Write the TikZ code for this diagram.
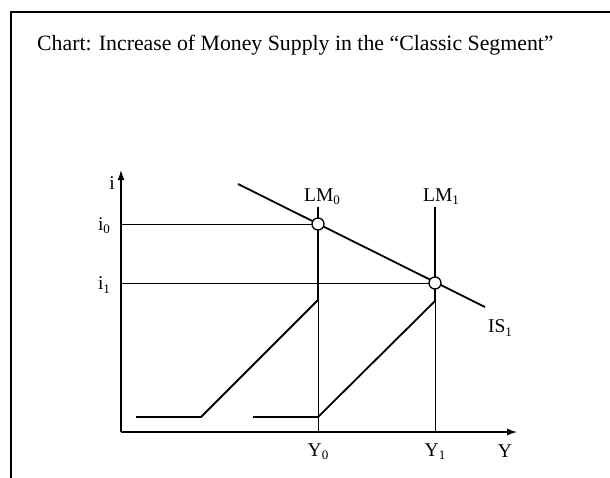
\documentclass[tikz,border=0pt]{standalone}
\usepackage{fontspec}
\setmainfont{Liberation Serif}
\usetikzlibrary{arrows.meta}
\newcommand{\sbs}[1]{\raisebox{-0.35ex}{\fontsize{13}{13}\selectfont #1}}
\begin{document}
\begin{tikzpicture}[x=1pt,y=-1pt,
  frame/.style={line width=2.6pt},
  thick curve/.style={line width=1.8pt},
  thin guide/.style={line width=0.9pt},
  axisline/.style={line width=1.3pt,-{Latex[length=10pt,width=7pt]}},
  lbl/.style={font=\fontsize{19.5}{19.5}\selectfont, inner sep=0pt},
  eq/.style={circle,draw,fill=white,line width=1.3pt,minimum size=12pt,inner sep=0pt}]
\useasboundingbox (0,0) rectangle (610,477);
\begin{scope}
\clip (0,0) rectangle (610,477);
\draw[frame] (11,490) -- (11,12) -- (620,12);
\end{scope}
\node[anchor=base west, inner sep=0pt, font=\fontsize{21.8}{21.8}\selectfont] (title) at (37,50) {Chart: Increase of Money Supply in the “Classic Segment”};
% coordinates
\coordinate (O) at (121,432);
\coordinate (ytop) at (121,170);
\coordinate (xend) at (517,432);
\coordinate (E0) at (318,224);
\coordinate (E1) at (435,283);
\coordinate (k0) at (318,300);
\coordinate (k1) at (435,301);
\coordinate (b0) at (318,432);
\coordinate (b1) at (435,432);
\coordinate (lm0top) at (318,207);
\coordinate (lm1top) at (435,207);
\coordinate (d0) at (201,417);
\coordinate (h0) at (136,417);
\coordinate (d1) at (318,417);
\coordinate (h1) at (253,417);
\coordinate (is0) at (238,184);
\coordinate (is1) at (485,307);
\coordinate (i0l) at (121,224);
\coordinate (i1l) at (121,283);
% axes
\draw[axisline] (O) -- (ytop);
\draw[axisline] (O) -- (xend);
% guides
\draw[thin guide] (i0l) -- (E0);
\draw[thin guide] (i1l) -- (E1);
\draw[thin guide] (k0) -- (b0);
\draw[thin guide] (k1) -- (b1);
% LM curves
\draw[thick curve] (h0) -- (d0) -- (k0) -- (lm0top);
\draw[thick curve] (h1) -- (d1) -- (k1) -- (lm1top);
% IS
\draw[thick curve] (is0) -- (is1);
\node[eq] (c0) at (E0) {};
\node[eq] (c1) at (E1) {};
% labels
\node[lbl] (li) at (112,183) {i};
\node[lbl] (li0) at (104,226) {i\sbs{0}};
\node[lbl] (li1) at (104,285) {i\sbs{1}};
\node[lbl] (lLM0) at (322,197) {LM\sbs{0}};
\node[lbl] (lLM1) at (441,197) {LM\sbs{1}};
\node[lbl] (lIS) at (500,328) {IS\sbs{1}};
\node[lbl] (lY0) at (318,452) {Y\sbs{0}};
\node[lbl] (lY1) at (435,452) {Y\sbs{1}};
\node[lbl] (lY) at (505,451) {Y};
\end{tikzpicture}
\end{document}
